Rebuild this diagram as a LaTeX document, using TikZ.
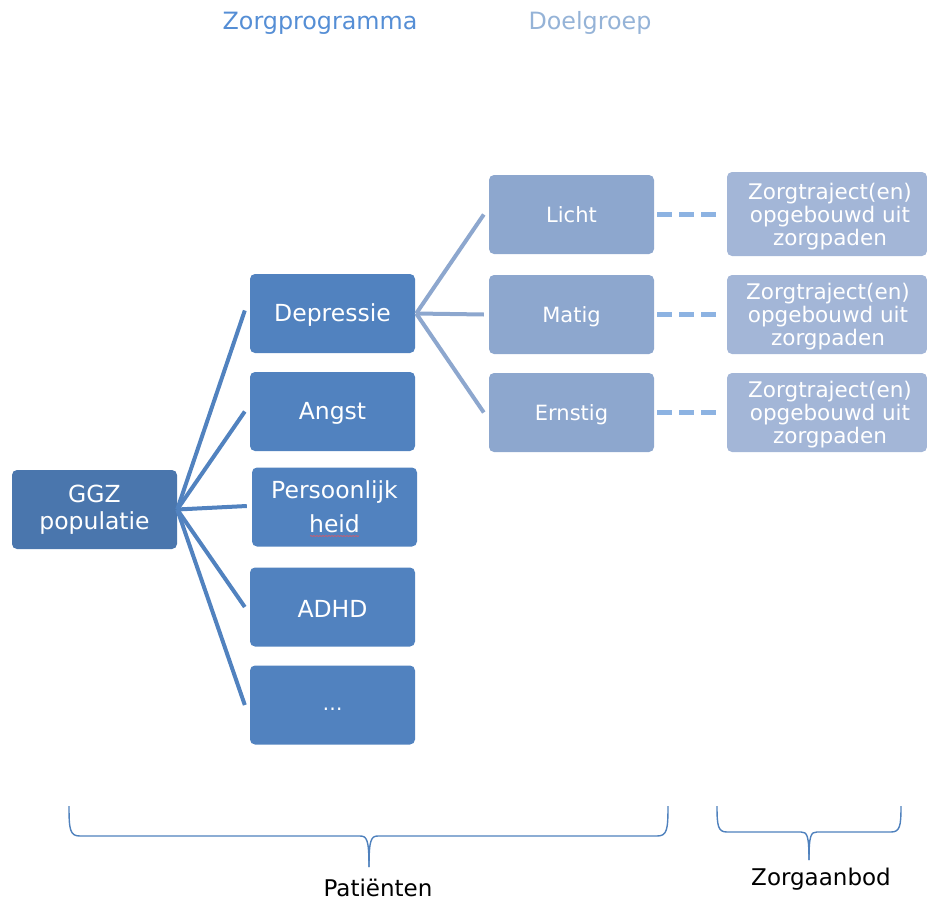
\documentclass[tikz,border=0pt]{standalone}
\usepackage{fontspec}
\setmainfont{DejaVu Sans}
\usetikzlibrary{decorations.pathmorphing}
\definecolor{ggz}{HTML}{4A76AD}
\definecolor{prog}{HTML}{5182BF}
\definecolor{doel}{HTML}{8DA7CE}
\definecolor{traj}{HTML}{A3B6D7}
\definecolor{dash}{HTML}{8DB3E2}
\definecolor{ttlA}{HTML}{558ED5}
\definecolor{ttlB}{HTML}{95B3D7}
\definecolor{brace}{HTML}{4F81BD}
\newcommand{\dn}[1]{\raisebox{-2pt}[\height][\depth]{#1}}
\tikzset{
  box/.style={rounded corners=5pt, inner sep=0pt, text=white, align=center},
  ggzbox/.style={box, fill=ggz, minimum width=165pt, minimum height=79pt, font=\fontsize{23.5}{27}\selectfont},
  progbox/.style={box, fill=prog, minimum width=165pt, minimum height=79pt, font=\fontsize{23.5}{34}\selectfont},
  doelbox/.style={box, fill=doel, minimum width=165pt, minimum height=79pt, font=\fontsize{21}{24}\selectfont},
  trajbox/.style={box, fill=traj, minimum width=200pt},
  trajtext/.style={font=\fontsize{21.5}{23}\selectfont, text=white, align=center, inner sep=0pt},
  progline/.style={draw=prog, line width=4pt},
  doelline/.style={draw=doel, line width=4pt},
  dashline/.style={draw=dash, line width=5pt, dash pattern=on 15pt off 7pt},
  bracestyle/.style={draw=brace, line width=1.4pt},
  ttl/.style={font=\fontsize{23.8}{26}\selectfont},
  lbl/.style={font=\fontsize{23}{26}\selectfont, inner sep=0pt}
}
\begin{document}
\begin{tikzpicture}[x=1pt,y=-1pt]
\useasboundingbox (0,0) rectangle (927,902);
% titles
\node[ttl, text=ttlA] (t1) at (320,23.5) {Zorgprogramma};
\node[ttl, text=ttlB] (t2) at (590,22.5) {Doelgroep};
% nodes
\node[ggzbox] (ggz) at (94.5,509.5) {GGZ\\populatie};
\node[progbox] (dep) at (332.5,313.5) {\dn{Depressie}};
\node[progbox] (ang) at (332.5,411.5) {\dn{Angst}};
\node[progbox] (per) at (334.5,507) {Persoonlijk\\heid};
\node[progbox] (adhd) at (332.5,607) {\dn{ADHD}};
\node[progbox] (dots) at (332.5,705) {};
\node[text=white, font=\fontsize{20}{22}\selectfont] (dotst) at (332.5,709) {…};
\node[doelbox] (li) at (571.5,214.5) {Licht};
\node[doelbox] (ma) at (571.5,314.5) {\dn{Matig}};
\node[doelbox] (er) at (571.5,412.5) {\dn{Ernstig}};
\node[trajbox, minimum height=84pt] (z1) at (827,214) {};
\node[trajbox, minimum height=79pt] (z2) at (827,314.5) {};
\node[trajbox, minimum height=79pt] (z3) at (827,412.5) {};
\node[trajtext] (z1t) at (830,217) {Zorgtraject(en)\\opgebouwd uit\\zorgpaden};
\node[trajtext] (z2t) at (828,317) {Zorgtraject(en)\\opgebouwd uit\\zorgpaden};
\node[trajtext] (z3t) at (830,415) {Zorgtraject(en)\\opgebouwd uit\\zorgpaden};
% spell-check underline
\draw[red!70!white, line width=0.6pt, decorate, decoration={snake, amplitude=0.4pt, segment length=3pt}] (310,536) -- (359,536);
% connectors from GGZ
\coordinate (g0) at (ggz.east);
\draw[progline] (g0) -- ([xshift=-5pt,yshift=3pt]dep.west);
\draw[progline] (g0) -- ([xshift=-5pt]ang.west);
\draw[progline] (g0) -- ([xshift=-5pt,yshift=1pt]per.west);
\draw[progline] (g0) -- ([xshift=-5pt]adhd.west);
\draw[progline] (g0) -- ([xshift=-5pt]dots.west);
% connectors from Depressie
\coordinate (d0) at ([xshift=1pt]dep.east);
\draw[doelline] (d0) -- ([xshift=-5pt]li.west);
\draw[doelline] (d0) -- ([xshift=-5pt]ma.west);
\draw[doelline] (d0) -- ([xshift=-5pt]er.west);
% dashed
\draw[dashline] ([xshift=3pt,yshift=0.5pt]li.east) -- ([xshift=-4pt,yshift=0.5pt]li.east -| z1.west);
\draw[dashline] ([xshift=3pt,yshift=0.5pt]ma.east) -- ([xshift=-4pt,yshift=0.5pt]ma.east -| z2.west);
\draw[dashline] ([xshift=3pt,yshift=0.5pt]er.east) -- ([xshift=-4pt,yshift=0.5pt]er.east -| z3.west);
% braces
\coordinate (b1l) at (69,806);
\coordinate (b1r) at (668,806);
\coordinate (b1t) at (369,867);
\draw[bracestyle] (b1l) .. controls (69,830) and (70,836) .. (80,836) -- (360,836)
  .. controls (367,836) and (369,840) .. (b1t);
\draw[bracestyle] (b1t) .. controls (369,840) and (371,836) .. (378,836) -- (657,836)
  .. controls (667,836) and (668,830) .. (b1r);
\coordinate (b2l) at (717,806);
\coordinate (b2r) at (901,806);
\coordinate (b2t) at (809,860);
\draw[bracestyle] (b2l) .. controls (717,826) and (718,832) .. (727,832) -- (801,832)
  .. controls (807,832) and (809,835) .. (b2t);
\draw[bracestyle] (b2t) .. controls (809,835) and (811,832) .. (817,832) -- (891,832)
  .. controls (900,832) and (901,826) .. (b2r);
\node[lbl] (pat) at (378,887.5) {Patiënten};
\node[lbl] (zaa) at (821,879) {Zorgaanbod};
\end{tikzpicture}
\end{document}
